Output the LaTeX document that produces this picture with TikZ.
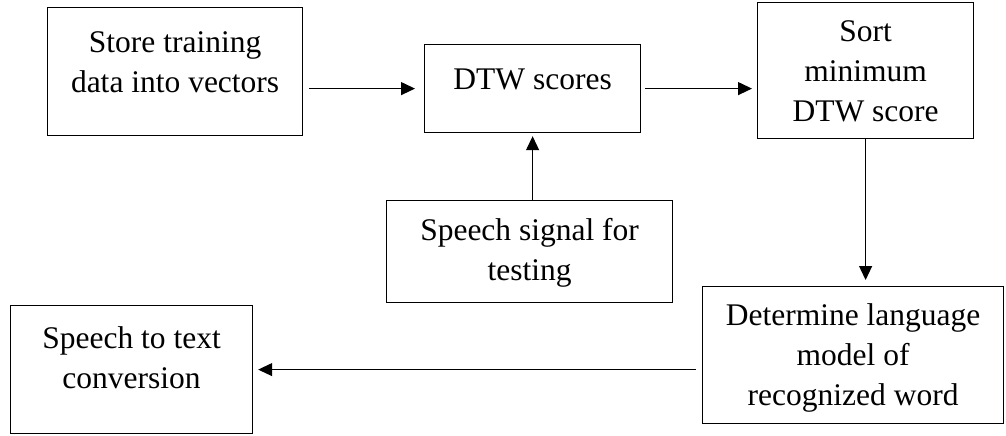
\documentclass[tikz,border=0pt]{standalone}
\usepackage{fontspec}
\setmainfont{Liberation Serif}
\usetikzlibrary{arrows.meta,calc}
\newcommand{\blockfont}{\fontsize{31.5}{40}\selectfont}

\begin{document}
\begin{tikzpicture}[x=1pt, y=-1pt,
  blk/.style={draw, line width=1.2pt, inner sep=0pt, anchor=north west, align=center, font=\blockfont},
  arr/.style={line width=1.2pt, -{Triangle[length=14pt,width=13pt]}}]
\useasboundingbox (0,0) rectangle (1006,436);
\node[blk, minimum width=255pt, text height=85pt, text depth=43pt] (store) at (47,7) {Store training\\data into vectors};
\node[blk, minimum width=216pt, text height=45pt, text depth=43pt] (dtw) at (424,44) {DTW scores};
\node[blk, minimum width=216pt, text height=119pt, text depth=17pt] (sort) at (757,2) {Sort\\minimum\\DTW score};
\node[blk, minimum width=286pt, text height=80pt, text depth=22pt] (test) at (386,200) {Speech signal for\\testing};
\node[blk, minimum width=301pt, text height=119pt, text depth=18pt] (lang) at (702,286) {Determine language\\model of\\recognized word};
\node[blk, minimum width=242pt, text height=83pt, text depth=45pt] (conv) at (10,305) {Speech to text\\conversion};
\draw[arr, shorten <=6pt, shorten >=9pt] (store.east |- dtw.west) -- (dtw.west);
\draw[arr, shorten <=4pt, shorten >=5pt] (dtw.east) -- (dtw.east -| sort.west);
\draw[arr, shorten >=3pt] (test.north -| dtw.south) -- (dtw.south);
\draw[arr, shorten >=6pt] (sort.south) -- (sort.south |- lang.north);
\draw[arr, shorten <=6pt, shorten >=5pt] (lang.west |- conv.east) -- (conv.east);
\end{tikzpicture}
\end{document}
